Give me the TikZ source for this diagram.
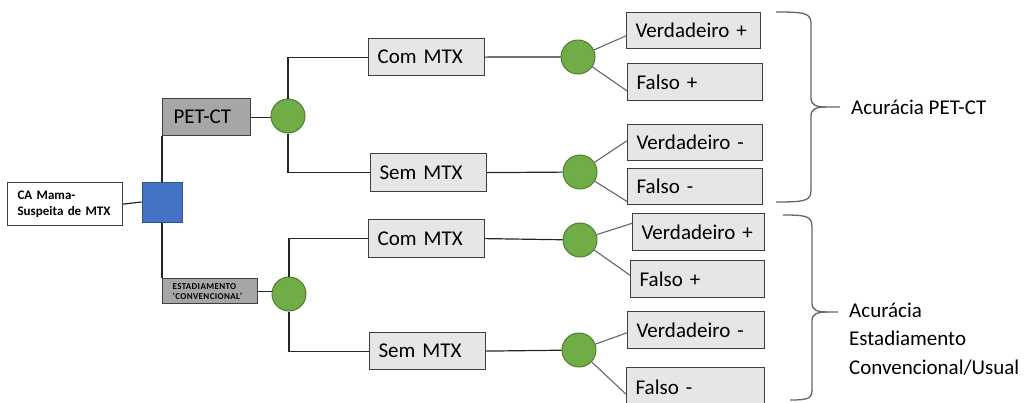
\documentclass[tikz,border=0pt]{standalone}
\usepackage{fontspec}
\setmainfont{Carlito}
\usetikzlibrary{calc}

\definecolor{boxgray}{HTML}{E7E6E6}
\definecolor{darkfill}{HTML}{A6A6A6}
\definecolor{edgegray}{HTML}{3F3F3F}
\definecolor{nodegreen}{HTML}{70AD47}
\definecolor{greenedge}{HTML}{507E32}
\definecolor{nodeblue}{HTML}{4472C4}
\definecolor{blueedge}{HTML}{2F528F}

\begin{document}
\begin{tikzpicture}[x=1pt,y=-1pt,
  every node/.style={font=\fontsize{21}{25}\selectfont},
  lbox/.style={draw=edgegray, line width=1.2pt, fill=boxgray, anchor=north west,
    minimum height=37, inner xsep=9, inner ysep=0, align=left},
  darkbox/.style={lbox, fill=darkfill},
  cabox/.style={draw=edgegray, line width=1.2pt, fill=white, anchor=north west,
    minimum height=43, inner xsep=10, inner ysep=0, align=left,
    font=\fontsize{13}{16}\selectfont\bfseries},
  chance/.style={circle, fill=nodegreen, draw=greenedge, line width=1pt,
    minimum size=34, inner sep=0},
  decision/.style={rectangle, fill=nodeblue, draw=blueedge, line width=1pt,
    minimum size=40, inner sep=0},
  link/.style={draw=black!85, line width=1.2pt},
  twig/.style={draw=black!60, line width=1.1pt},
  brace/.style={draw=black!60, line width=1.3pt},
]
\useasboundingbox (0,0) rectangle (1025,402);
\clip (0,0) rectangle (1025,402);

% root and first decision
\node[cabox, text width=95] (ca) at (7,182) {CA Mama-\\Suspeita de MTX};
\node[decision] (sq) at (162,202) {};
\node[darkbox, text width=66, inner xsep=11] (pet) at (162,98) {PET-CT};
\node[darkbox, text width=75, inner xsep=10, minimum height=25,
  font=\fontsize{9}{10}\selectfont\bfseries\addfontfeatures{LetterSpace=4}] (est) at (162,278)
  {ESTADIAMENTO\\‘CONVENCIONAL’};

% chance nodes after each exam
\node[chance] (c1) at (288,116) {};
\node[chance] (c2) at (289,294) {};

% metastasis branches
\node[lbox, text width=98] (com1) at (368,38) {Com MTX};
\node[lbox, text width=98, minimum height=38] (sem1) at (370,153) {Sem MTX};
\node[lbox, text width=98, minimum height=38] (com2) at (368,219) {Com MTX};
\node[lbox, text width=98] (sem2) at (369,332) {Sem MTX};

\node[chance] (cc1) at (578,57) {};
\node[chance] (cc2) at (580,172) {};
\node[chance] (cc3) at (580,240) {};
\node[chance] (cc4) at (579,350) {};

% test outcomes
\node[lbox, text width=116, minimum height=36] (vp1) at (626,12) {Verdadeiro +};
\node[lbox, text width=117] (fp1) at (627,63) {Falso +};
\node[lbox, text width=117, minimum height=36] (vm1) at (627,124) {Verdadeiro -};
\node[lbox, text width=117, minimum height=36] (fm1) at (627,168) {Falso -};
\node[lbox, text width=114] (vp2) at (632,213) {Verdadeiro +};
\node[lbox, text width=116] (fp2) at (630,260) {Falso +};
\node[lbox, text width=119] (vm2) at (627,311) {Verdadeiro -};
\node[lbox, text width=120, minimum height=40] (fm2) at (626,367) {Falso -};

% tree connectors
\draw[link] (ca.east) -- (sq.west);
\draw[link] (sq.north) -- (sq.north |- pet.south);
\draw[link] (sq.south) -- (sq.south |- est.north);
\draw[link] (pet.east) -- (pet.east -| c1.west);
\draw[link] (est.east) -- (est.east -| c2.west);
\draw[link] (c1.north) |- (com1.west);
\draw[link] (c1.south) |- (sem1.west);
\draw[link] (c2.north) |- (com2.west);
\draw[link] (c2.south) |- (sem2.west);
\draw[link] (com1.east) -- (cc1);
\draw[link] (sem1.east) -- (cc2);
\draw[link] (com2.east) -- (cc3);
\draw[link] (sem2.east) -- (cc4);

% outcome connectors
\draw[twig] (cc1) -- ($(vp1.south west)!0.36!(vp1.north west)$);
\draw[twig] (cc1) -- ($(fp1.south west)!0.27!(fp1.north west)$);
\draw[twig] (cc2) -- ($(vm1.south west)!0.55!(vm1.north west)$);
\draw[twig] (cc2) -- ($(fm1.south west)!0.10!(fm1.north west)$);
\draw[twig] (cc3) -- ($(vp2.south west)!0.73!(vp2.north west)$);
\draw[twig] (cc3) -- ($(fp2.south west)!0.60!(fp2.north west)$);
\draw[twig] (cc4) -- ($(vm2.south west)!0.43!(vm2.north west)$);
\draw[twig] (cc4) -- ($(fm2.south west)!0.34!(fm2.north west)$);

% braces and their labels
\draw[brace] (776,12) .. controls (805,12) and (811,13) .. (811,24) -- (811,98)
  .. controls (811,105) and (816,107) .. (826,107) -- (840,107);
\draw[brace] (776,202) .. controls (805,202) and (811,201) .. (811,190) -- (811,116)
  .. controls (811,109) and (816,107) .. (826,107);
\node[anchor=west, inner sep=0] (acc1) at (851,107) {Acurácia PET-CT};

\draw[brace] (783,215) .. controls (806,215) and (812,216) .. (812,227) -- (812,303)
  .. controls (812,310) and (817,312) .. (827,312) -- (838,312);
\draw[brace] (790,400) .. controls (807,400) and (812,399) .. (812,390) -- (812,321)
  .. controls (812,314) and (817,312) .. (827,312);
\node[anchor=west, inner sep=0, align=left, font=\fontsize{21}{28.5}\selectfont] (acc2)
  at (849,339) {Acurácia\\Estadiamento\\Convencional/Usual};
\end{tikzpicture}
\end{document}
